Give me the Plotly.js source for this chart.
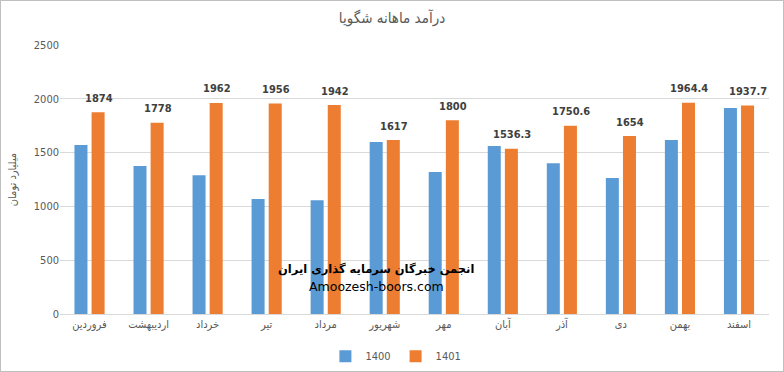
<!DOCTYPE html>
<html><head><meta charset="utf-8">
<script src="https://cdn.plot.ly/plotly-3.0.1.min.js"></script>
<style>
html,body{margin:0;padding:0;background:#fff;}
#c{width:782px;height:370px;border:1px solid #bfbfbf;}
</style></head>
<body><div id="c"></div>
<script>
const months = ['فروردین','اردیبهشت','خرداد','تیر','مرداد','شهریور','مهر','آبان','آذر','دی','بهمن','اسفند'];
const v1400 = [1570, 1375, 1290, 1068, 1058, 1598, 1320, 1562, 1402, 1265, 1618, 1915];
const v1401 = [1874, 1778, 1962, 1956, 1942, 1617, 1800, 1536.3, 1750.6, 1654, 1964.4, 1937.7];
const labels1401 = ['1874','1778','1962','1956','1942','1617','1800','1536.3','1750.6','1654','1964.4','1937.7'];

const fontMain = 'Liberation Sans Narrow, Arial Narrow, DejaVu Sans Condensed, sans-serif';
const gray = '#595959';

const traces = [
  {type:'bar', name:'1400', x:months, y:v1400, marker:{color:'#5b9bd5'}, hoverinfo:'y'},
  {type:'bar', name:'1401', x:months, y:v1401, marker:{color:'#ed7d31'}, hoverinfo:'y'}
];

const annotations = months.map((m,i)=>({
  x:m, y:v1401[i], xref:'x', yref:'y', text:'<b>'+labels1401[i]+'</b>',
  showarrow:false, xshift:9, yshift:14,
  font:{family:'DejaVu Sans Condensed, sans-serif', size:11, color:'#404040'}
}));
annotations.push({
  xref:'paper', yref:'paper', x:0.446, y:0.133, showarrow:false,
  text:'<b>انجمن خبرگان سرمایه گذاری ایران</b>',
  font:{family:'DejaVu Sans, sans-serif', size:11.5, color:'#000'}
});
annotations.push({
  xref:'paper', yref:'paper', x:0.446, y:0.066, showarrow:false,
  text:'Amoozesh-boors.com',
  font:{family:'DejaVu Sans, sans-serif', size:12.5, color:'#000'}
});

const layout = {
  width:782, height:370,
  margin:{l:59, r:14, t:44, b:57},
  paper_bgcolor:'#fff', plot_bgcolor:'#fff',
  title:{text:'درآمد ماهانه شگویا', x:0.5, xanchor:'center', y:0.955, yanchor:'middle',
         font:{family:'DejaVu Sans Condensed, sans-serif', size:15, color:gray}},
  barmode:'group', bargap:0.42, bargroupgap:0.24,
  xaxis:{type:'category', tickfont:{family:fontMain, size:11, color:gray},
         showline:true, linecolor:'#d9d9d9', ticks:'', showgrid:false, automargin:false},
  yaxis:{range:[0,2500], dtick:500, tickfont:{family:fontMain, size:11, color:gray},
         gridcolor:'#d9d9d9', zeroline:false, showline:false, ticks:'', automargin:false,
         title:{text:'میلیارد تومان', standoff:14, font:{family:'DejaVu Sans Condensed, sans-serif', size:11, color:gray}}},
  legend:{orientation:'h', x:0.505, xanchor:'center', xref:'container', yref:'container', y:0.04, yanchor:'middle',
          font:{family:fontMain, size:11, color:gray}, itemwidth:30, traceorder:'normal'},
  annotations:annotations,
  showlegend:true
};
Plotly.newPlot('c', traces, layout, {displayModeBar:false, staticPlot:true});
</script></body></html>
